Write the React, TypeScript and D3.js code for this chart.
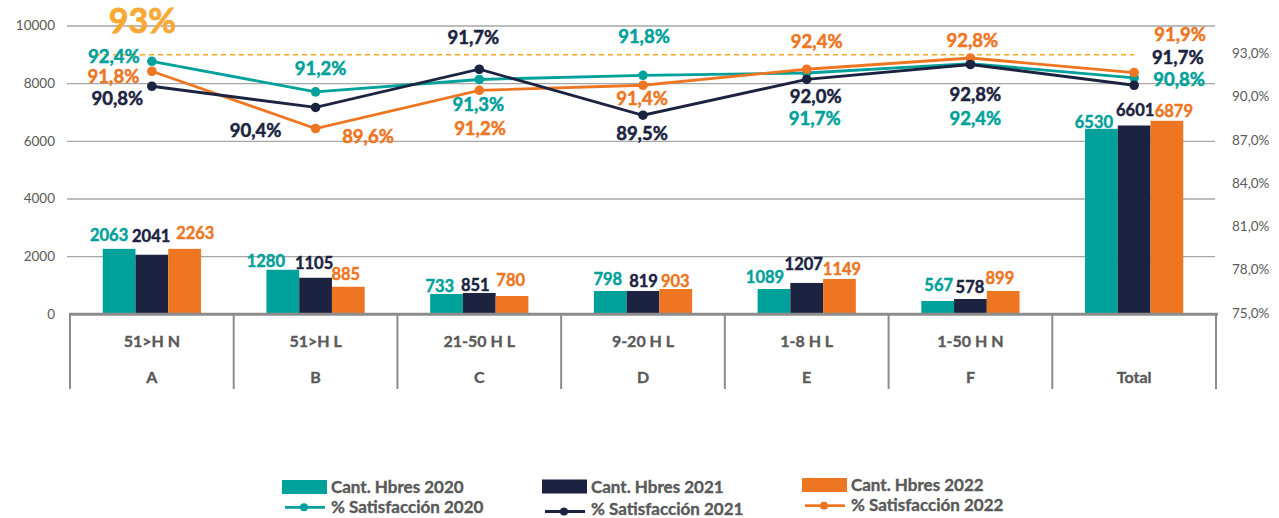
import React from "react";
import * as d3 from "d3";

// ---------- data ----------
const categories = ["A", "B", "C", "D", "E", "F", "Total"];
const groupLabels = ["51>H N", "51>H L", "21-50 H L", "9-20 H L", "1-8 H L", "1-50 H N", ""];

// bar heights as drawn (left axis)
const cant2020 = [2270, 1545, 705, 809, 878, 462, 6434];
const cant2021 = [2066, 1267, 740, 809, 1087, 531, 6549];
const cant2022 = [2270, 955, 635, 878, 1226, 809, 6712];
// bar value labels as printed
const cantLabels2020 = ["2063", "1280", "733", "798", "1089", "567", "6530"];
const cantLabels2021 = ["2041", "1105", "851", "819", "1207", "578", "6601"];
const cantLabels2022 = ["2263", "885", "780", "903", "1149", "899", "6879"];

// satisfaction points as drawn (right axis, %)
const sat2020 = [92.55, 90.43, 91.29, 91.58, 91.74, 92.39, 91.4];
const sat2021 = [90.82, 89.35, 92.0, 88.81, 91.29, 92.33, 90.89];
const sat2022 = [91.86, 87.89, 90.54, 90.89, 92.0, 92.78, 91.77];
// satisfaction labels as printed
const satLabels2020 = ["92,4%", "91,2%", "91,3%", "91,8%", "91,7%", "92,4%", "90,8%"];
const satLabels2021 = ["90,8%", "90,4%", "91,7%", "89,5%", "92,0%", "92,8%", "91,7%"];
const satLabels2022 = ["91,8%", "89,6%", "91,2%", "91,4%", "92,4%", "92,8%", "91,9%"];

const leftTicks = [0, 2000, 4000, 6000, 8000, 10000];
const rightTicks = [75, 78, 81, 84, 87, 90, 93];
const targetValue = 93;
const targetLabel = "93%";

const barNames = ["Cant. Hbres 2020", "Cant. Hbres 2021", "Cant. Hbres 2022"];
const lineNames = ["% Satisfacción 2020", "% Satisfacción 2021", "% Satisfacción 2022"];

// ---------- style / layout ----------
const COLORS = ["#00A19A", "#1B2340", "#EE7623"];
const GOLD = "#F7A934";
const GRAY_TEXT = "#595959";
const FONT = "Lato, 'Open Sans', sans-serif";

const W = 1279;
const H = 518;
const plotLeft = 70;
const plotRight = 1216;
const plotTop = 26;
const plotBottom = 314.3;

// label offsets (px) relative to bar top-centre
const barLabelOffsets = [
  [[-10, -8.3], [-17, -2.3], [-6.7, -2.3], [-2.5, -6], [-9, -5.7], [1, -10], [-7.5, -1.3]],
  [[-0.7, -12.3], [-1.5, -9], [-4, -2], [0.5, -4.3], [-3, -13], [-0.5, -5.7], [1, -9.7]],
  [[10.7, -10], [-2.5, -7], [-1.3, -10], [-0.5, -2.3], [2.5, -4], [-3.3, -6.7], [7, -3.3]],
];
// label offsets (px) relative to line point
const satLabelOffsets = [
  [[-38, 1.3], [5, -16.7], [-1, 31.7], [1, -32.7], [8, 51.6], [5, 61.7], [45, 8.3]],
  [[-34.5, 19], [-60, 30], [-6, -25.7], [-1, 24.3], [9, 24], [5, 36.4], [43.6, -21.7]],
  [[-38.4, 11.3], [52.4, 14.4], [0.7, 45], [-1, 19.3], [10, -21.3], [2, -11], [46, -31.3]],
];
const legendLayout = [
  { x: 282, rectY: 480, textY1: 493, lineY: 507.3, textY2: 513 },
  { x: 542, rectY: 479.5, textY1: 492.5, lineY: 511.5, textY2: 514.5 },
  { x: 802, rectY: 478, textY1: 490.5, lineY: 505.7, textY2: 510.7 },
];

export default function App() {
  const cantSeries = [cant2020, cant2021, cant2022];
  const cantLabels = [cantLabels2020, cantLabels2021, cantLabels2022];
  const satSeries = [sat2020, sat2021, sat2022];
  const satLabels = [satLabels2020, satLabels2021, satLabels2022];

  const x = d3
    .scaleBand<string>()
    .domain(categories)
    .range([plotLeft, plotRight])
    .paddingInner(0.4)
    .paddingOuter(0.2);
  const step = x.step();
  const xSlot = d3.scaleBand<number>().domain([0, 1, 2]).range([0, x.bandwidth()]);
  const yL = d3.scaleLinear().domain([0, 10000]).range([plotBottom, plotTop]);
  const yR = d3.scaleLinear().domain([75, 95]).range([plotBottom, plotTop]);
  const cx = (c: string) => (x(c) as number) + x.bandwidth() / 2;

  const line = d3
    .line<number>()
    .x((_, i) => cx(categories[i]))
    .y((d) => yR(d));

  const heavy = (color: string, w = 0.45) => ({ fill: color, stroke: color, strokeWidth: w });

  return (
    <svg
      width={W}
      height={H}
      style={{ position: "absolute", left: 0, top: 0, display: "block", background: "#fff" }}
      fontFamily={FONT}
    >
      {/* gridlines */}
      {leftTicks
        .filter((t) => t > 0)
        .map((t) => (
          <line key={"g" + t} x1={67} x2={1215} y1={yL(t)} y2={yL(t)} stroke="#A6A6A6" strokeWidth={1.3} />
        ))}
      {/* left axis labels */}
      {leftTicks.map((t) => (
        <text key={"l" + t} x={55} y={yL(t) + 1} textAnchor="end" dominantBaseline="middle" fontSize={13.5} fill={GRAY_TEXT}>
          {t}
        </text>
      ))}
      {/* right axis labels */}
      {rightTicks.map((t) => (
        <text key={"r" + t} x={1232} y={yR(t)} textAnchor="start" dominantBaseline="middle" fontSize={13.5} fill={GRAY_TEXT}>
          {d3.format(".1f")(t).replace(".", ",") + "%"}
        </text>
      ))}

      {/* bars */}
      {cantSeries.map((s, si) =>
        s.map((v, i) => (
          <rect
            key={`b${si}-${i}`}
            x={(x(categories[i]) as number) + (xSlot(si) as number)}
            y={yL(v)}
            width={xSlot.bandwidth()}
            height={yL(0) - yL(v)}
            fill={COLORS[si]}
          />
        ))
      )}

      {/* baseline & category separators */}
      <line x1={69} x2={1218} y1={plotBottom} y2={plotBottom} stroke="#8C8C8C" strokeWidth={3} />
      {d3.range(categories.length + 1).map((i) => (
        <line
          key={"s" + i}
          x1={plotLeft + i * step}
          x2={plotLeft + i * step}
          y1={plotBottom}
          y2={389}
          stroke="#8C8C8C"
          strokeWidth={2}
        />
      ))}
      {categories.map((c, i) => (
        <g key={"c" + c}>
          <text x={cx(c)} y={346.7} textAnchor="middle" fontSize={16} fontWeight={700} {...heavy(GRAY_TEXT, 0.35)}>
            {groupLabels[i]}
          </text>
          <text x={cx(c)} y={382.7} textAnchor="middle" fontSize={16} fontWeight={700} {...heavy(GRAY_TEXT, 0.35)}>
            {c}
          </text>
        </g>
      ))}

      {/* bar labels */}
      {cantSeries.map((s, si) =>
        s.map((v, i) => {
          const bx = (x(categories[i]) as number) + (xSlot(si) as number) + xSlot.bandwidth() / 2;
          const [dx, dy] = barLabelOffsets[si][i];
          return (
            <text
              key={`bl${si}-${i}`}
              x={bx + dx}
              y={yL(v) + dy}
              textAnchor="middle"
              fontSize={16.5}
              fontWeight={700}
              {...heavy(COLORS[si])}
            >
              {cantLabels[si][i]}
            </text>
          );
        })
      )}

      {/* target dashed line */}
      <line
        x1={95}
        x2={cx("Total")}
        y1={yR(targetValue)}
        y2={yR(targetValue)}
        stroke="#F5A623"
        strokeWidth={1.5}
        strokeDasharray="5,4"
      />
      <text x={142.5} y={33} textAnchor="middle" fontSize={34} fontWeight={700} {...heavy(GOLD, 0.8)}>
        {targetLabel}
      </text>

      {/* lines (teal, orange, navy order) */}
      {[0, 2, 1].map((si) => (
        <g key={"ln" + si}>
          <path d={line(satSeries[si]) || ""} fill="none" stroke={COLORS[si]} strokeWidth={2.8} />
          {satSeries[si].map((v, i) => (
            <circle key={i} cx={cx(categories[i])} cy={yR(v)} r={4.8} fill={COLORS[si]} />
          ))}
        </g>
      ))}

      {/* sat labels */}
      {satSeries.map((s, si) =>
        s.map((v, i) => {
          const [dx, dy] = satLabelOffsets[si][i];
          return (
            <text
              key={`sl${si}-${i}`}
              x={cx(categories[i]) + dx}
              y={yR(v) + dy}
              textAnchor="middle"
              fontSize={18.5}
              fontWeight={700}
              {...heavy(COLORS[si], 0.5)}
            >
              {satLabels[si][i]}
            </text>
          );
        })
      )}

      {/* legend */}
      {legendLayout.map((L, i) => (
        <g key={"lg" + i}>
          <rect x={L.x} y={L.rectY} width={45} height={14} fill={COLORS[i]} />
          <text x={L.x + 49} y={L.textY1} fontSize={17} fontWeight={700} {...heavy(GRAY_TEXT, 0.35)}>
            {barNames[i]}
          </text>
          <line x1={L.x + 3} x2={L.x + 43} y1={L.lineY} y2={L.lineY} stroke={COLORS[i]} strokeWidth={2.8} />
          <circle cx={L.x + 22} cy={L.lineY} r={4} fill={COLORS[i]} />
          <text x={L.x + 49} y={L.textY2} fontSize={17} fontWeight={700} {...heavy(GRAY_TEXT, 0.35)}>
            {lineNames[i]}
          </text>
        </g>
      ))}
    </svg>
  );
}
